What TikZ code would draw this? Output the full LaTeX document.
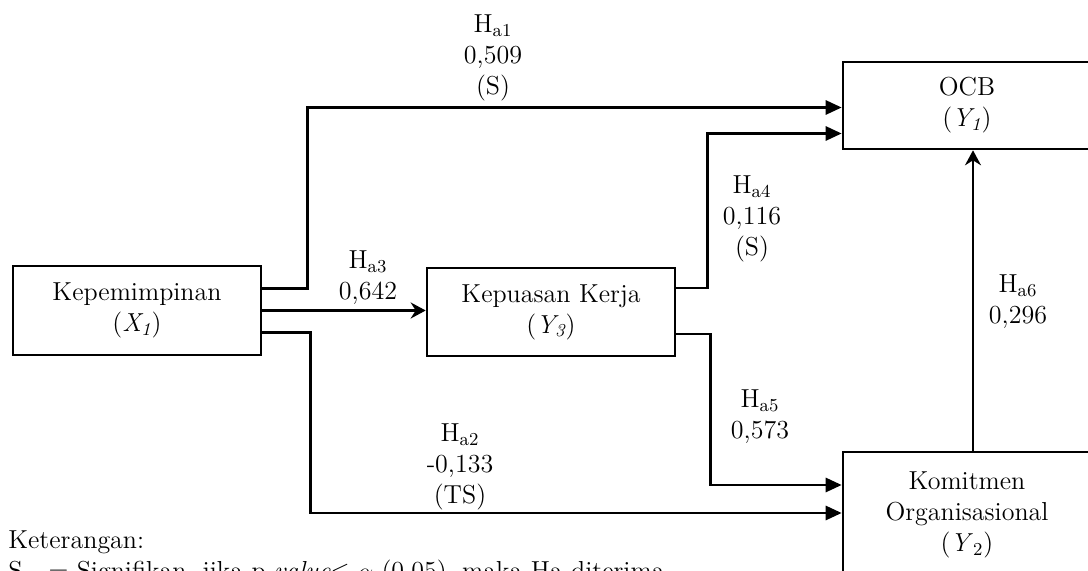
\documentclass[tikz,border=0pt]{standalone}
\usepackage{amsmath,amssymb}
\usepackage{tikz}
\usetikzlibrary{arrows.meta,positioning}

\begin{document}
\begin{tikzpicture}[x=0.5pt, y=-0.5pt,
    font=\fontsize{13}{15.5}\selectfont,
    varbox/.style={draw, rectangle, line width=1.3pt, minimum width=124pt, align=center},
    link/.style={-{Triangle[length=8pt, width=7pt]}, line width=1.4pt},
    slink/.style={-{Stealth[length=7.5pt, width=8pt, inset=2.5pt]}, line width=1.4pt},
    lbl/.style={align=center, inner sep=0pt}]
    \useasboundingbox (0,0) rectangle (1088,571);

    \node[varbox, minimum height=44.5pt] (kep) at (137,310.5) {Kepemimpinan\\(\textit{X\textsubscript{1}})};
    \node[varbox, minimum height=44pt] (kpk) at (551,312) {Kepuasan Kerja\\(\textit{Y\textsubscript{3}})};
    \node[varbox, minimum height=43.5pt] (ocb) at (967,105.5) {OCB\\(\textit{Y\textsubscript{1}})};
    \node[varbox, minimum height=63pt] (kom) at (967,515) {Komitmen\\Organisasional\\(\textit{Y}\textsubscript{2})};

    \draw[link] ([yshift=11pt]kep.east) -- ++(45,0) |- ([yshift=-1pt]ocb.west);
    \draw[slink] (kep.east) -- (kep.east -| kpk.west);
    \draw[link] ([yshift=-11pt]kep.east) -- ++(48,0) |- ([yshift=1pt]kom.west);
    \draw[link] ([yshift=12pt]kpk.east) -- ++(31,0) |- ([yshift=-14pt]ocb.west);
    \draw[link] ([yshift=-11pt]kpk.east) -- ++(34,0) |- ([yshift=15pt]kom.west);
    \draw[slink] ([xshift=3pt]kom.north) -- ([xshift=3pt]ocb.south);

    \node[lbl] (ha1) at (493,58) {H\textsubscript{a1}\\0,509\\(S)};
    \node[lbl] (ha2) at (460,467) {H\textsubscript{a2}\\-0,133\\(TS)};
    \node[lbl] (ha3) at (368,278) {H\textsubscript{a3}\\0,642};
    \node[lbl] (ha4) at (752,219) {H\textsubscript{a4}\\0,116\\(S)};
    \node[lbl] (ha5) at (760,417) {H\textsubscript{a5}\\0,573};
    \node[lbl] (ha6) at (1018,302) {H\textsubscript{a6}\\0,296};

    \node[lbl, align=left, anchor=north west] (ket) at (8,530) {Keterangan:\\S\quad = Signifikan, jika p \textit{value}$\leq$ $\alpha$ (0,05), maka Ha diterima};
\end{tikzpicture}
\end{document}
